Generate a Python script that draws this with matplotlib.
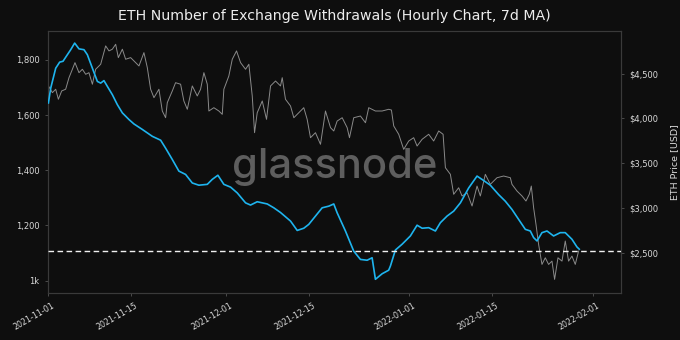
import datetime as dt
import matplotlib
matplotlib.use("Agg")
import matplotlib.pyplot as plt
import matplotlib.transforms as mtransforms

# days since 2021-11-01 00:00 for the withdrawals line (7d MA)
wd_days = [0.07, 0.46, 1.30, 1.97, 2.53, 3.27, 3.83, 4.50, 5.23, 6.07, 6.64, 7.49, 8.33,
           8.89, 9.44, 10.02, 10.86, 11.70, 12.55, 13.66, 14.50, 15.92, 17.61, 19.01,
           19.85, 20.98, 22.09, 23.22, 24.35, 25.46, 26.88, 27.72, 28.67, 29.68, 30.81,
           31.94, 33.34, 34.18, 35.31, 37.00, 38.11, 39.24, 40.93, 42.06, 43.17, 44.01,
           45.14, 46.27, 47.39, 48.23, 48.80, 50.20, 51.60, 52.73, 53.86, 54.70, 55.26,
           56.39, 57.50, 57.79, 58.63, 59.76, 61.16, 62.29, 63.14, 64.25, 65.38, 66.22,
           67.35, 68.47, 69.60, 71.00, 72.41, 73.52, 74.65, 76.05, 77.18, 78.31, 79.43,
           80.56, 81.40, 81.96, 82.53, 83.37, 84.22, 85.33, 86.46, 87.30, 88.43, 89.28,
           89.67]
withdrawals = [1644, 1698, 1770, 1792, 1795, 1819, 1837, 1861, 1840, 1837, 1819, 1770, 1722,
               1716, 1725, 1704, 1674, 1638, 1608, 1584, 1568, 1548, 1523, 1509,
               1480, 1439, 1397, 1385, 1354, 1346, 1349, 1367, 1382, 1349, 1339,
               1318, 1282, 1274, 1286, 1278, 1264, 1247, 1216, 1182, 1190, 1204,
               1234, 1264, 1270, 1278, 1246, 1180, 1107, 1077, 1074, 1083, 1005,
               1025, 1038, 1053, 1111, 1132, 1162, 1201, 1190, 1192, 1180, 1210,
               1234, 1252, 1282, 1336, 1379, 1363, 1346, 1312, 1288, 1258, 1222,
               1186, 1180, 1156, 1144, 1174, 1180, 1162, 1174, 1174, 1150, 1122,
               1114]

# days since 2021-11-01 for ETH price
px_days = [0.07, 0.74, 1.30, 1.75, 2.31, 2.98, 3.54, 4.00, 4.55, 5.23, 5.80, 6.36, 6.91,
           7.49, 8.04, 8.89, 9.73, 10.29, 10.86, 11.42, 11.87, 12.55, 13.10, 13.95,
           14.79, 15.35, 16.19, 16.76, 17.32, 17.88, 18.72, 19.29, 19.85, 20.13, 20.98,
           21.53, 22.38, 22.93, 23.51, 24.35, 25.19, 25.75, 26.31, 26.88, 27.15, 27.99,
           28.84, 29.41, 29.68, 30.52, 31.10, 31.82, 32.50, 33.34, 33.90, 34.47, 34.86,
           35.31, 36.16, 36.88, 37.56, 38.40, 39.24, 39.53, 40.08, 40.93, 41.49, 42.33,
           43.17, 43.74, 44.30, 45.14, 45.99, 46.83, 47.68, 48.23, 48.80, 49.65, 50.49,
           50.88, 51.60, 52.73, 53.58, 54.13, 55.26, 56.39, 57.50, 57.96, 58.35, 59.19,
           60.03, 60.88, 61.72, 62.29, 63.14, 64.25, 65.09, 65.94, 66.68, 67.07, 67.91,
           68.47, 69.31, 69.88, 70.73, 71.57, 72.41, 72.97, 73.81, 74.65, 75.78, 76.90,
           78.03, 78.31, 79.16, 80.00, 80.67, 81.23, 81.57, 81.96, 82.36, 82.80, 83.37,
           83.93, 84.49, 85.06, 85.50, 86.07, 86.75, 87.30, 87.86, 88.43, 88.99, 89.55]
price = [4363, 4288, 4326, 4214, 4307, 4326, 4455, 4530, 4623, 4511, 4549, 4493, 4511,
         4382, 4549, 4605, 4810, 4754, 4773, 4828, 4679, 4773, 4661, 4679,
         4623, 4586, 4735, 4567, 4326, 4232, 4326, 4083, 4008, 4176, 4307,
         4399, 4382, 4195, 4102, 4363, 4251, 4326, 4511, 4382, 4083, 4120,
         4083, 4046, 4326, 4474, 4661, 4754, 4623, 4549, 4605, 4251, 3841,
         4064, 4195, 3990, 4363, 4418, 4363, 4455, 4214, 4139, 4008, 4064,
         4120, 3990, 3785, 3841, 3711, 4083, 3897, 3860, 3971, 4008, 3897,
         3785, 4008, 4027, 3952, 4120, 4083, 4083, 4102, 4094, 3916, 3823,
         3655, 3748, 3785, 3692, 3767, 3823, 3748, 3860, 3823, 3450, 3376,
         3153, 3226, 3134, 3170, 3022, 3245, 3134, 3376, 3264, 3338, 3357,
         3338, 3264, 3189, 3134, 3078, 3153, 3245, 3003, 2817, 2594, 2370,
         2444, 2370, 2407, 2203, 2444, 2407, 2631, 2407, 2463, 2370, 2519]

baseline = 1108
left_ticks = [1000, 1200, 1400, 1600, 1800]
left_labels = ["1k", "1,200", "1,400", "1,600", "1,800"]
right_ticks = [2500, 3000, 3500, 4000, 4500]
right_labels = ["$2,500", "$3,000", "$3,500", "$4,000", "$4,500"]
date_ticks = ["2021-11-01", "2021-11-15", "2021-12-01", "2021-12-15",
              "2022-01-01", "2022-01-15", "2022-02-01"]

start = dt.datetime(2021, 11, 1)
wd_dates = [start + dt.timedelta(days=d) for d in wd_days]
px_dates = [start + dt.timedelta(days=d) for d in px_days]

bg = "#0e0e0e"
fg = "#d9d9d9"
plt.rcParams["font.family"] = ["DejaVu Sans"]

fig = plt.figure(figsize=(6.8, 3.4), dpi=100, facecolor=bg)
ax = fig.add_axes([0.0706, 0.138, 0.843, 0.771])
ax.set_facecolor(bg)
ax2 = ax.twinx()

ax2.plot(px_dates, price, color="#8a8a8a", lw=0.7, zorder=1)
ax.plot(wd_dates, withdrawals, color="#1eb4ee", lw=1.2, zorder=3)
ax.axhline(baseline, color="#f0f0f0", lw=1.0, ls=(0, (4, 2.5)), zorder=4)
ax.set_zorder(ax2.get_zorder() + 1)
ax.patch.set_visible(False)
ax2.patch.set_visible(True)
ax2.patch.set_facecolor(bg)

ax.set_xlim(start, start + dt.timedelta(days=96.75))
ax.set_ylim(955, 1905)
ax2.set_ylim(2050, 4977)

ax.set_yticks(left_ticks)
ax.set_yticklabels(left_labels)
ax2.set_yticks(right_ticks)
ax2.set_yticklabels(right_labels)
ax.set_xticks([dt.datetime.strptime(s, "%Y-%m-%d") for s in date_ticks])
ax.set_xticklabels(date_ticks, rotation=30, ha="right")

for a in (ax, ax2):
    a.tick_params(colors=fg, labelsize=6, length=2.5, width=0.6)
    a.tick_params(axis="both", color="#555555")
    for s in a.spines.values():
        s.set_color("#3a3a3a")
        s.set_linewidth(0.8)
ax.tick_params(axis="x", labelsize=5.7, pad=3)

# nudge the rotated date labels a little to the right
shift = mtransforms.ScaledTranslation(0.08, 0, fig.dpi_scale_trans)
for lbl in ax.get_xticklabels():
    lbl.set_transform(lbl.get_transform() + shift)

ax2.set_ylabel("ETH Price [USD]", color=fg, fontsize=6.8, labelpad=8)
ax.set_title("ETH Number of Exchange Withdrawals (Hourly Chart, 7d MA)",
             color="#ededed", fontsize=10.2, pad=8)

ax.text(0.5, 0.481, "glassnode", transform=ax.transAxes, ha="center", va="center",
        fontsize=30, family=["Inter", "DejaVu Sans"], fontweight="medium",
        color="#5e5e5e", zorder=2)

fig.savefig("out.png", dpi=100, facecolor=bg)
